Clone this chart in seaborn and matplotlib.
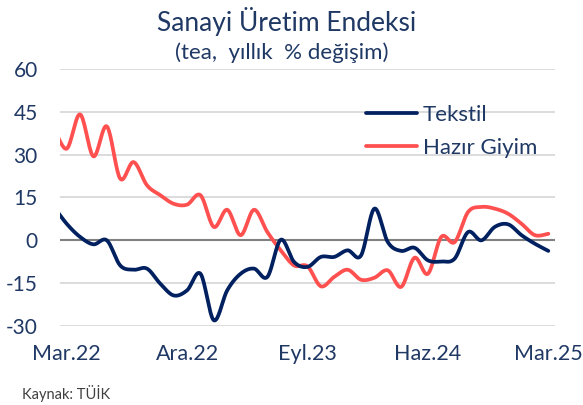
import matplotlib
matplotlib.use("Agg")
import matplotlib.pyplot as plt
import numpy as np
import pandas as pd
import seaborn as sns
from matplotlib.lines import Line2D

# ──────────────────────────────────────────────
# Dados (yıllık % değişim), Şub.22 – Mar.25
# ──────────────────────────────────────────────
_AYLAR = ["Oca", "Şub", "Mar", "Nis", "May", "Haz",
          "Tem", "Ağu", "Eyl", "Eki", "Kas", "Ara"]
tarihler = pd.date_range("2022-02-01", "2025-03-01", freq="MS")
etiketler = [f"{_AYLAR[t.month - 1]}.{t.strftime('%y')}" for t in tarihler]

tekstil = [12.0, 5.8, 1.2, -1.4, 0.0, -8.8, -10.3, -9.9, -15.2, -19.3, -17.5,
           -11.7, -28.0, -17.5, -11.7, -9.9, -12.8, 0.2, -7.6, -9.3, -5.8,
           -5.8, -3.5, -5.3, 11.1, -0.6, -3.7, -2.6, -7.0, -7.4, -6.4, 2.9,
           0.0, 4.7, 5.6, 1.8, -1.2, -3.7]
hazir_giyim = [40.0, 32.1, 44.1, 29.4, 39.9, 21.6, 27.4, 19.3, 15.8, 12.8,
               12.5, 15.8, 4.7, 10.7, 1.8, 10.7, 2.9, -3.5, -8.8, -9.1, -16.1,
               -12.8, -10.3, -13.8, -13.1, -10.5, -16.3, -6.1, -11.7, 1.2,
               -0.6, 9.9, 11.7, 11.1, 9.3, 5.8, 1.8, 2.3]

eixo_ticks = ["Mar.22", "Ara.22", "Eyl.23", "Haz.24", "Mar.25"]
y_ticks = [-30, -15, 0, 15, 30, 45, 60]

COR_TEKSTIL = "#002060"
COR_GIYIM = "#FF5050"
COR_TEXTO = "#1F3864"


def _suavizar(y, n=20):
    """Curva suavizada estilo Excel (Bezier / Catmull-Rom)."""
    y = np.asarray(y, dtype=float)
    x = np.arange(len(y), dtype=float)
    px = np.concatenate([[x[0]], x, [x[-1]]])
    py = np.concatenate([[y[0]], y, [y[-1]]])
    xs, ys = [], []
    t = np.linspace(0, 1, n, endpoint=False)
    for i in range(1, len(px) - 2):
        p0 = np.array([px[i], py[i]])
        p3 = np.array([px[i + 1], py[i + 1]])
        c1 = p0 + (np.array([px[i + 1], py[i + 1]]) - np.array([px[i - 1], py[i - 1]])) / 6
        c2 = p3 - (np.array([px[i + 2], py[i + 2]]) - np.array([px[i], py[i]])) / 6
        b = ((1 - t) ** 3)[:, None] * p0 + (3 * (1 - t) ** 2 * t)[:, None] * c1 \
            + (3 * (1 - t) * t ** 2)[:, None] * c2 + (t ** 3)[:, None] * p3
        xs.extend(b[:, 0])
        ys.extend(b[:, 1])
    xs.append(x[-1])
    ys.append(y[-1])
    return np.array(xs), np.array(ys)


sns.set_style("white")
plt.rcParams["font.family"] = ["Lato", "DejaVu Sans"]

fig = plt.figure(figsize=(5.83, 4.05), dpi=100)
ax = fig.add_axes([60 / 583, 1 - 326 / 405, 495 / 583, 257 / 405])

# posição 0 = Mar.22 (Şub.22 fica em -1, fora da área)
desloc = etiketler.index("Mar.22")
for serie, cor in [(hazir_giyim, COR_GIYIM), (tekstil, COR_TEKSTIL)]:
    xs, ys = _suavizar(serie)
    sns.lineplot(x=xs - desloc, y=ys, sort=False, color=cor, linewidth=2.7,
                 ax=ax, zorder=3)

ax.set_xlim(-0.5, len(etiketler) - desloc - 0.5)
ax.set_ylim(-30, 60)
ax.set_yticks(y_ticks)
ax.set_yticklabels([str(v) for v in y_ticks])
ax.set_xticks([etiketler.index(e) - desloc for e in eixo_ticks])
ax.set_xticklabels(eixo_ticks)
ax.tick_params(axis="y", length=0, pad=16, labelsize=15, labelcolor=COR_TEXTO)
ax.tick_params(axis="x", length=0, pad=13, labelsize=15.5, labelcolor=COR_TEXTO)

for v in y_ticks:
    if v != 0:
        ax.axhline(v, color="#D9D9D9", linewidth=1.3, zorder=1)
ax.axhline(0, color="#808080", linewidth=1.5, zorder=2)
for s in ax.spines.values():
    s.set_visible(False)
ax.set_xlabel("")
ax.set_ylabel("")

handles = [Line2D([], [], color=COR_TEKSTIL, linewidth=2.7),
           Line2D([], [], color=COR_GIYIM, linewidth=2.7)]
leg = ax.legend(handles, ["Tekstil", "Hazır Giyim"], loc="upper left",
                bbox_to_anchor=(297 / 495, 1 - 27 / 257), frameon=False,
                fontsize=16, handlelength=2.3, handletextpad=0.25,
                labelspacing=0.6, borderaxespad=0)
for t in leg.get_texts():
    t.set_color(COR_TEXTO)

fig.text(287 / 583, 1 - 21 / 405, "Sanayi Üretim Endeksi", ha="center",
         va="center", fontsize=19, color=COR_TEXTO)
fig.text(282 / 583, 1 - 53 / 405, "(tea,  yıllık  % değişim)", ha="center",
         va="center", fontsize=16, color=COR_TEXTO)
fig.text(22 / 583, 1 - 393 / 405, "Kaynak: TÜİK", ha="left", va="center",
         fontsize=10.5, color="#404040")

fig.savefig("out.png", dpi=100)
